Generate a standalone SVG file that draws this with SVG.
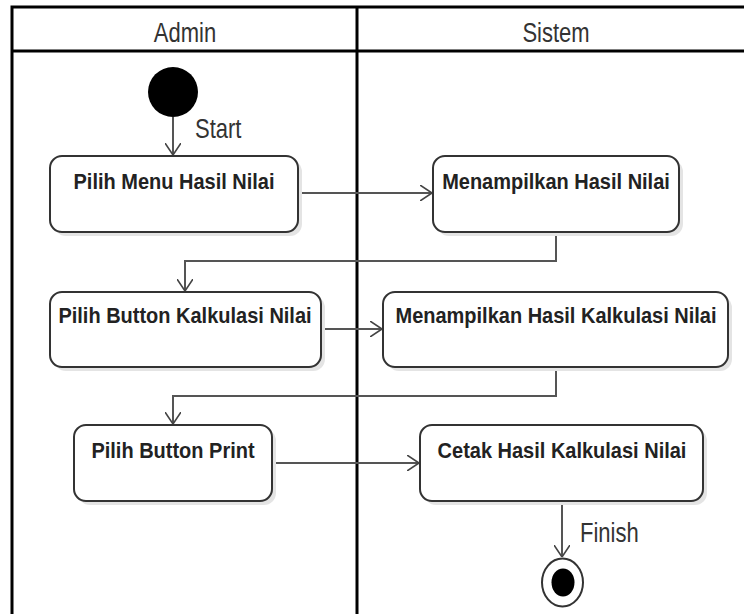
<svg xmlns="http://www.w3.org/2000/svg" width="744" height="614" viewBox="0 0 744 614">
<style>
.frame{fill:none;stroke:#000;stroke-width:3}
.box{fill:#fff;stroke:#333;stroke-width:2}
.shadow{fill:#e4e4e4}
.lbl{font-family:"Liberation Sans",Arial,sans-serif;font-weight:bold;font-size:20px;fill:#222;text-anchor:middle}
.hdr{font-family:"Liberation Sans",Arial,sans-serif;font-size:22px;fill:#333;text-anchor:middle}
.edge{fill:none;stroke:#555;stroke-width:2}
</style>
<defs>
<marker id="arr" viewBox="0 0 12 16" refX="12" refY="8" markerWidth="12" markerHeight="16" markerUnits="userSpaceOnUse" orient="auto">
<path d="M0,0 L12,8 L0,16" fill="none" stroke="#444" stroke-width="1.6"/>
</marker>
</defs>
<rect width="744" height="614" fill="#fff"/>
<g id="swimlanes">
<rect class="frame" x="12" y="7" width="760" height="640"/>
<line class="frame" x1="12" y1="51" x2="760" y2="51"/>
<line class="frame" x1="357" y1="7" x2="357" y2="640"/>
<text class="hdr" transform="translate(185,42) scale(1,1.25)">Admin</text>
<text class="hdr" transform="translate(556,42) scale(1,1.25)">Sistem</text>
</g>
<g id="connectors">
<line class="edge" x1="173" y1="117" x2="173" y2="155" marker-end="url(#arr)"/>
<text class="hdr" transform="translate(195,138) scale(1,1.25)" style="text-anchor:start">Start</text>
<line class="edge" x1="298" y1="193" x2="432" y2="193" marker-end="url(#arr)"/>
<polyline class="edge" points="556,232 556,261 185,261 185,291" marker-end="url(#arr)"/>
<line class="edge" x1="321" y1="329" x2="382" y2="329" marker-end="url(#arr)"/>
<polyline class="edge" points="556,367 556,396 173,396 173,424" marker-end="url(#arr)"/>
<line class="edge" x1="272" y1="463" x2="419" y2="463" marker-end="url(#arr)"/>
<line class="edge" x1="562" y1="501" x2="562" y2="557" marker-end="url(#arr)"/>
<text class="hdr" transform="translate(580,542) scale(1,1.25)" style="text-anchor:start">Finish</text>
</g>
<g id="start">
<circle cx="173" cy="92" r="25" fill="#000"/>
</g>
<g id="n1">
<rect class="shadow" x="54" y="160" width="248" height="76" rx="12"/>
<rect class="box" x="50" y="156" width="248" height="76" rx="12"/>
<text class="lbl" transform="translate(174,189) scale(1,1.12)">Pilih Menu Hasil Nilai</text>
</g>
<g id="n2">
<rect class="shadow" x="437" y="160" width="246" height="76" rx="12"/>
<rect class="box" x="433" y="156" width="246" height="76" rx="12"/>
<text class="lbl" transform="translate(556,189) scale(1,1.12)">Menampilkan Hasil Nilai</text>
</g>
<g id="n3">
<rect class="shadow" x="54" y="296" width="271" height="75" rx="12"/>
<rect class="box" x="50" y="292" width="271" height="75" rx="12"/>
<text class="lbl" transform="translate(185,323) scale(1,1.12)">Pilih Button Kalkulasi Nilai</text>
</g>
<g id="n4">
<rect class="shadow" x="387" y="296" width="345" height="75" rx="12"/>
<rect class="box" x="383" y="292" width="345" height="75" rx="12"/>
<text class="lbl" transform="translate(556,323) scale(1,1.12)">Menampilkan Hasil Kalkulasi Nilai</text>
</g>
<g id="n5">
<rect class="shadow" x="78" y="429" width="198" height="76" rx="12"/>
<rect class="box" x="74" y="425" width="198" height="76" rx="12"/>
<text class="lbl" transform="translate(173,458) scale(1,1.12)">Pilih Button Print</text>
</g>
<g id="n6">
<rect class="shadow" x="424" y="429" width="283" height="76" rx="12"/>
<rect class="box" x="420" y="425" width="283" height="76" rx="12"/>
<text class="lbl" transform="translate(562,458) scale(1,1.12)">Cetak Hasil Kalkulasi Nilai</text>
</g>
<g id="end">
<ellipse cx="562.5" cy="582.5" rx="20.5" ry="24" fill="#fff" stroke="#333" stroke-width="2"/>
<ellipse cx="563" cy="582.5" rx="11.5" ry="14" fill="#000"/>
</g>
</svg>
